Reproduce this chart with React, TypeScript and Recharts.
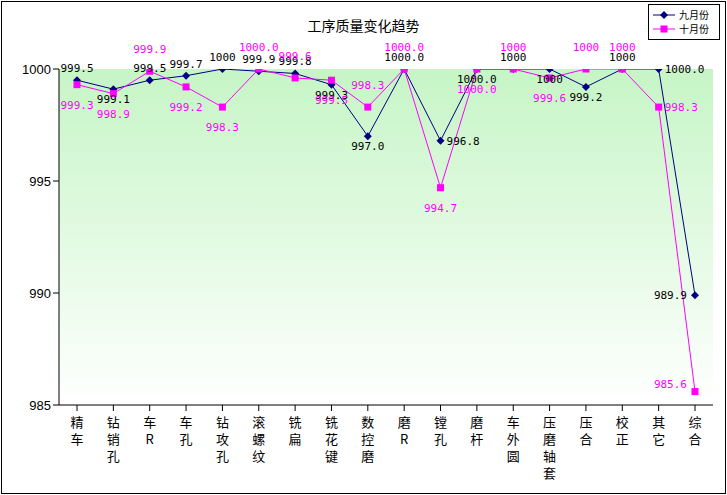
import React from 'react';
import { LineChart, Line, XAxis, YAxis, CartesianGrid, LabelList } from 'recharts';

const categories = ['精车', '钻销孔', '车R', '车孔', '钻攻孔', '滚螺纹', '铣扁', '铣花键', '数控磨', '磨R', '镗孔', '磨杆', '车外圆', '压磨轴套', '压合', '校正', '其它', '综合'];
const sept = [999.5, 999.1, 999.5, 999.7, 1000, 999.9, 999.8, 999.3, 997.0, 1000.0, 996.8, 1000.0, 1000, 1000, 999.2, 1000, 1000.0, 989.9];
const oct = [999.3, 998.9, 999.9, 999.2, 998.3, 1000.0, 999.6, 999.5, 998.3, 1000.0, 994.7, 1000.0, 1000, 999.6, 1000, 1000, 998.3, 985.6];
const septText = ['999.5', '999.1', '999.5', '999.7', '1000', '999.9', '999.8', '999.3', '997.0', '1000.0', '996.8', '1000.0', '1000', '1000', '999.2', '1000', '1000.0', '989.9'];
const octText = ['999.3', '998.9', '999.9', '999.2', '998.3', '1000.0', '999.6', '999.5', '998.3', '1000.0', '994.7', '1000.0', '1000', '999.6', '1000', '1000', '998.3', '985.6'];
// label side: 1 = above, -1 = below, 2 = right
const septSide = [1, -1, 1, 1, 1, 1, 1, -1, -1, 1, 2, -1, 1, -1, -1, 1, 2, -3];
const octSide = [-1, -1, 1, -1, -1, 1, 1, -1, 1, 1, -1, -1, 1, -1, 1, 1, 2, -3];

const data = categories.map((name, i) => ({ name, sept: sept[i], oct: oct[i] }));

const font = '"DejaVu Sans Mono", monospace';

const makeLabel = (texts: string[], sides: number[], color: string, shift: number) => (props: any) => {
  const { x, y, index } = props;
  const s = sides[index];
  let dx = 0;
  let dy = s > 0 ? -8 - shift : 14 + shift;
  let anchor = 'middle';
  if (s === 2) { dx = 6; dy = 4; anchor = 'start'; }
  if (s === -3) { dx = -8; dy = shift ? -4 : 4; anchor = 'end'; }
  return (
    <text x={x + dx} y={y + dy} textAnchor={anchor as any} fontSize={11} fontFamily={font} fill={color}>
      {texts[index]}
    </text>
  );
};

const CatTick = (props: any) => {
  const { x, y, payload } = props;
  const chars = Array.from(payload.value as string);
  return (
    <g>
      {chars.map((c, i) => (
        <text key={i} x={x} y={y + 14 + i * 17} textAnchor="middle" fontSize={13} fontFamily='"Noto Sans CJK SC"' fill="#000">
          {c}
        </text>
      ))}
    </g>
  );
};

const Diamond = (p: any) => (
  <path key={p.index} d={`M${p.cx},${p.cy - 4}L${p.cx + 4},${p.cy}L${p.cx},${p.cy + 4}L${p.cx - 4},${p.cy}Z`} fill="#000080" />
);

export default function App() {
  return (
    <div style={{ position: 'absolute', left: 0, top: 0, width: 727, height: 495, background: '#fff' }}>
      <svg width={0} height={0} style={{ position: 'absolute' }}>
        <defs>
          <linearGradient id="bg" x1="0" y1="0" x2="0" y2="1">
            <stop offset="0%" stopColor="#c6f5c6" />
            <stop offset="100%" stopColor="#ffffff" />
          </linearGradient>
        </defs>
      </svg>
      <div style={{ position: 'absolute', left: 1, top: 1, width: 723, height: 491, border: '1px solid #000' }} />
      <div style={{ position: 'absolute', left: 0, top: 15, width: 727, textAlign: 'center', fontSize: 14, fontFamily: '"Noto Sans CJK SC"' }}>
        工序质量变化趋势
      </div>
      <LineChart width={727} height={495} data={data} margin={{ top: 69, right: 14, left: 0, bottom: 0 }}>
        <CartesianGrid horizontal={false} vertical={false} fill="url(#bg)" stroke="#808080" />
        <XAxis dataKey="name" interval={0} height={90} padding={{ left: 18, right: 18 }} tick={<CatTick />} tickLine={{ stroke: '#000' }} axisLine={{ stroke: '#000' }} />
        <YAxis
          domain={[985, 1000]}
          ticks={[985, 990, 995, 1000]}
          width={59}
          tick={{ fontSize: 13, fill: '#000', fontFamily: '"Liberation Sans"' }}
          tickLine={{ stroke: '#000' }}
          axisLine={{ stroke: '#000' }}
          allowDataOverflow
        />
        <Line dataKey="sept" name="九月份" stroke="#000080" strokeWidth={1} isAnimationActive={false} dot={Diamond}>
          <LabelList dataKey="sept" content={makeLabel(septText, septSide, '#000', 0)} />
        </Line>
        <Line dataKey="oct" name="十月份" stroke="#ff00ff" strokeWidth={1} isAnimationActive={false}
          dot={(p: any) => <rect key={p.index} x={p.cx - 3.5} y={p.cy - 3.5} width={7} height={7} fill="#ff00ff" />}>
          <LabelList dataKey="oct" content={makeLabel(octText, octSide, '#ff00ff', 10)} />
        </Line>
      </LineChart>
      <div style={{ position: 'absolute', left: 648, top: 4, width: 70, height: 34, border: '1px solid #000', background: '#fff', fontSize: 10, fontFamily: '"Noto Sans CJK SC"' }}>
        <svg width={70} height={34} style={{ position: 'absolute', left: 0, top: 0 }}>
          <line x1={4} y1={10} x2={26} y2={10} stroke="#000080" />
          <path d="M15,6L19,10L15,14L11,10Z" fill="#000080" />
          <line x1={4} y1={24} x2={26} y2={24} stroke="#ff00ff" />
          <rect x={11.5} y={20.5} width={7} height={7} fill="#ff00ff" />
          <text x={30} y={14} fontSize={10} fill="#000">九月份</text>
          <text x={30} y={28} fontSize={10} fill="#000">十月份</text>
        </svg>
      </div>
    </div>
  );
}
